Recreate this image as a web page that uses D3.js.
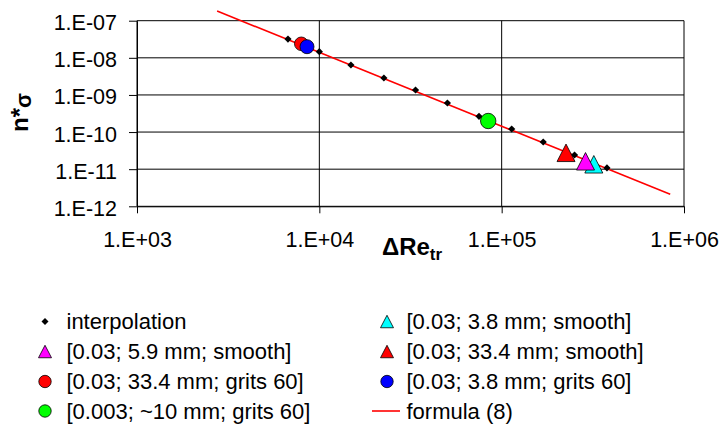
<!DOCTYPE html>
<html>
<head>
<meta charset="utf-8">
<script src="https://cdn.jsdelivr.net/npm/d3@7"></script>
<style>
  html, body { margin: 0; padding: 0; background: #fff; }
  svg { display: block; font-family: "Liberation Sans", Arial, sans-serif; }
</style>
</head>
<body>
<svg id="chart" width="719" height="428"></svg>
<script>
// ---- data ----
const xTickValues = [1e3, 1e4, 1e5, 1e6];
const xTickLabels = ["1.E+03", "1.E+04", "1.E+05", "1.E+06"];
const yTickValues = [1e-7, 1e-8, 1e-9, 1e-10, 1e-11, 1e-12];
const yTickLabels = ["1.E-07", "1.E-08", "1.E-09", "1.E-10", "1.E-11", "1.E-12"];

const interpX = [6730, 10000, 14900, 22600, 33700, 50400, 75100, 113500, 169000, 251000, 378000];
const interpY = [3.2e-8, 1.46e-8, 6.4e-9, 2.86e-9, 1.36e-9, 6.07e-10, 2.65e-10, 1.21e-10, 5.4e-11, 2.41e-11, 1.08e-11];

const cyanX = [320200];    const cyanY = [1.354e-11];
const magentaX = [288300]; const magentaY = [1.63e-11];
const redTriX = [225400];  const redTriY = [2.76e-11];
const redCircX = [7963];   const redCircY = [2.385e-8];
const blueX = [8558];      const blueY = [1.993e-8];
const greenX = [84370];    const greenY = [1.986e-10];

const formulaX = [2750, 840000];
const formulaY = [1.82e-7, 2.1e-12];

const seriesNames = [
  "interpolation",
  "[0.03; 3.8 mm; smooth]",
  "[0.03; 5.9 mm; smooth]",
  "[0.03; 33.4 mm; smooth]",
  "[0.03; 33.4 mm; grits 60]",
  "[0.03; 3.8 mm; grits 60]",
  "[0.003; ~10 mm; grits 60]",
  "formula (8)"
];

// ---- chart ----
const svg = d3.select("#chart");
svg.append("rect").attr("width", 719).attr("height", 428).attr("fill", "#fff");

const x = d3.scaleLog().domain([1e3, 1e6]).range([137, 684]);
const y = d3.scaleLog().domain([1e-7, 1e-12]).range([20.7, 206.3]);

// gridlines
const grid = svg.append("g");
grid.selectAll("line.h").data(yTickValues).join("line")
  .attr("x1", x(1e3)).attr("x2", x(1e6))
  .attr("y1", d => y(d)).attr("y2", d => y(d))
  .attr("stroke", "#000").attr("stroke-width", 1);
grid.selectAll("line.v").data(xTickValues).join("line")
  .attr("x1", d => x(d)).attr("x2", d => x(d))
  .attr("y1", y(1e-7)).attr("y2", y(1e-12))
  .attr("stroke", "#000").attr("stroke-width", 1);

// axes
const xAxis = d3.axisBottom(x).tickValues(xTickValues)
  .tickFormat((d, i) => xTickLabels[i]).tickSize(7).tickSizeOuter(0).tickPadding(18);
const yAxis = d3.axisLeft(y).tickValues(yTickValues)
  .tickFormat((d, i) => yTickLabels[i]).tickSize(8).tickSizeOuter(0).tickPadding(12);

const gx = svg.append("g").attr("transform", `translate(0,${y(1e-12)})`).call(xAxis);
const gy = svg.append("g").attr("transform", `translate(${x(1e3)},0)`).call(yAxis);
[gx, gy].forEach(g => {
  g.select(".domain").attr("stroke", "#000");
  g.selectAll(".tick line").attr("stroke", "#000");
  g.selectAll("text").attr("font-size", "21.5px").attr("fill", "#000")
    .attr("font-family", '"Liberation Sans", Arial, sans-serif');
});
gy.selectAll("text").attr("dy", "0.42em");

// axis titles
const xt = svg.append("text").attr("x", 412).attr("y", 255)
  .attr("text-anchor", "middle").attr("font-weight", "bold").attr("font-size", "24px");
xt.append("tspan").text("ΔRe");
xt.append("tspan").attr("font-size", "17px").attr("dy", 5).text("tr");

const yt = svg.append("text").attr("transform", "translate(28,112.5) rotate(-90)")
  .attr("text-anchor", "middle").attr("font-weight", "bold").attr("font-size", "24px");
yt.append("tspan").text("n*");
yt.append("tspan").attr("font-size", "22px").attr("dy", 3).text("σ");

// formula line (drawn under markers)
const lineGen = d3.line().x(d => x(d[0])).y(d => y(d[1]));
svg.append("path").datum(d3.zip(formulaX, formulaY))
  .attr("d", lineGen).attr("fill", "none").attr("stroke", "#ff0000").attr("stroke-width", 1.6);

// marker shapes
const diamondPath = s => `M0,${-s}L${s},0L0,${s}L${-s},0Z`;
const triPath = (w, h) => `M0,${-h / 2}L${w / 2},${h / 2}L${-w / 2},${h / 2}Z`;

function drawMarkers(xs, ys, kind, fill, size) {
  const data = d3.zip(xs, ys);
  const g = svg.append("g");
  if (kind === "diamond") {
    g.selectAll("path").data(data).join("path")
      .attr("transform", d => `translate(${x(d[0])},${y(d[1])})`)
      .attr("d", diamondPath(size)).attr("fill", fill);
  } else if (kind === "triangle") {
    g.selectAll("path").data(data).join("path")
      .attr("transform", d => `translate(${x(d[0])},${y(d[1])})`)
      .attr("d", triPath(size[0], size[1])).attr("fill", fill)
      .attr("stroke", "#000").attr("stroke-width", 0.8);
  } else {
    g.selectAll("circle").data(data).join("circle")
      .attr("cx", d => x(d[0])).attr("cy", d => y(d[1])).attr("r", size)
      .attr("fill", fill).attr("stroke", "#000").attr("stroke-width", 0.8);
  }
}

drawMarkers(interpX, interpY, "diamond", "#000", 3.6);
drawMarkers(cyanX, cyanY, "triangle", "#00ffff", [18, 17.5]);
drawMarkers(magentaX, magentaY, "triangle", "#ff00ff", [18, 17.5]);
drawMarkers(redTriX, redTriY, "triangle", "#ff0000", [18, 17.5]);
drawMarkers(redCircX, redCircY, "circle", "#ff0000", 6.8);
drawMarkers(blueX, blueY, "circle", "#0000ff", 7);
drawMarkers(greenX, greenY, "circle", "#00ff00", 7.7);

// legend (two columns, row-wise order)
const legendItems = [
  { name: seriesNames[0], kind: "diamond", fill: "#000" },
  { name: seriesNames[1], kind: "triangle", fill: "#00ffff" },
  { name: seriesNames[2], kind: "triangle", fill: "#ff00ff" },
  { name: seriesNames[3], kind: "triangle", fill: "#ff0000" },
  { name: seriesNames[4], kind: "circle", fill: "#ff0000" },
  { name: seriesNames[5], kind: "circle", fill: "#0000ff" },
  { name: seriesNames[6], kind: "circle", fill: "#00ff00" },
  { name: seriesNames[7], kind: "line", fill: "#ff0000" }
];
const colMarkerX = [45, 387];
const colTextX = [66.5, 406.5];
const rowY = [321.5, 351.5, 381.5, 411];
const lg = svg.append("g");
legendItems.forEach((it, i) => {
  const col = i % 2, row = Math.floor(i / 2);
  const mx = colMarkerX[col], my = rowY[row];
  if (it.kind === "diamond") {
    lg.append("path").attr("transform", `translate(${mx},${my})`).attr("d", diamondPath(3.5)).attr("fill", it.fill);
  } else if (it.kind === "triangle") {
    lg.append("path").attr("transform", `translate(${mx},${my})`).attr("d", triPath(13, 12.5))
      .attr("fill", it.fill).attr("stroke", "#000").attr("stroke-width", 0.8);
  } else if (it.kind === "circle") {
    lg.append("circle").attr("cx", mx).attr("cy", my).attr("r", 6.2)
      .attr("fill", it.fill).attr("stroke", "#000").attr("stroke-width", 0.8);
  } else {
    lg.append("line").attr("x1", mx - 15).attr("x2", mx + 13).attr("y1", my).attr("y2", my)
      .attr("stroke", it.fill).attr("stroke-width", 1.6);
  }
  lg.append("text").attr("x", colTextX[col]).attr("y", my + 7.8)
    .attr("font-size", "22px").attr("fill", "#000").text(it.name);
});
</script>
</body>
</html>
